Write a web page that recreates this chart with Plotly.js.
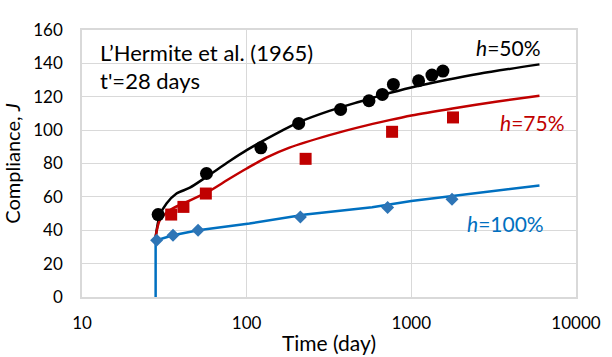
<!DOCTYPE html>
<html>
<head>
<meta charset="utf-8">
<script src="https://cdn.plot.ly/plotly-3.0.1.min.js"></script>
<style>
  body { margin: 0; background: #fff; }
  #chart { width: 612px; height: 357px; }
</style>
</head>
<body>
<div id="chart"></div>
<script>
// measured points (L'Hermite et al. 1965, t' = 28 days)
var t50 = [29, 57, 122, 207, 372, 553, 667, 778, 1107, 1334, 1555];
var j50 = [49.4, 74, 89.4, 104, 112.4, 117.6, 121.4, 127.4, 129.6, 133, 135.4];

var t75 = [34.8, 41.3, 56.5, 228, 764, 1791];
var j75 = [49.4, 54, 62, 82.8, 99, 107.6];

var t100 = [28.4, 35.7, 50.7, 212, 718, 1766];
var j100 = [34, 37, 40, 48, 53.6, 58.6];

// model curves
var tFit50 = [28, 29.7, 32.6, 37.5, 45.2, 57, 78.9, 100, 166, 205, 318, 484, 667, 1000, 1622, 2583, 6000];
var jFit50 = [36, 49, 56, 62, 65.5, 72, 81.5, 88, 100, 104.5, 111.5, 117, 121, 125.5, 130, 133.8, 139.4];

var tFit75 = [28, 29.7, 34.1, 41.1, 57, 78.9, 100, 131.6, 182, 318, 484, 736, 1000, 1780, 3260, 6000];
var jFit75 = [36, 46, 52, 56, 62.5, 71, 77, 83.5, 89.5, 97, 101.8, 106, 108.8, 113, 117, 120.6];

var tFit100 = [28, 28, 28.4, 35.7, 50.7, 104, 228, 578, 1000, 1766, 6000];
var jFit100 = [0, 34, 34, 37, 40, 44, 49.5, 53.8, 57.5, 60.5, 66.8];

var xTicks = [10, 100, 1000, 10000];
var xTickText = ['10', '100', '1000', '10000'];
var yTicks = [0, 20, 40, 60, 80, 100, 120, 140, 160];

var black = '#000000', red = '#c00000', blue = '#0070c0';

var data = [
  {x: tFit50, y: jFit50, mode: 'lines', line: {color: black, width: 2.5, shape: 'spline', smoothing: 0.8}},
  {x: tFit75, y: jFit75, mode: 'lines', line: {color: red, width: 2.5, shape: 'spline', smoothing: 0.8}},
  {x: tFit100, y: jFit100, mode: 'lines', line: {color: blue, width: 2.5}},
  {x: t50, y: j50, mode: 'markers', marker: {color: black, size: 13, symbol: 'circle'}},
  {x: t75, y: j75, mode: 'markers', marker: {color: red, size: 12, symbol: 'square'}},
  {x: t100, y: j100, mode: 'markers', marker: {color: '#2e75b6', size: 10, symbol: 'diamond'}}
];

var font = 'Lato, "Open Sans", sans-serif';

var layout = {
  width: 612,
  height: 357,
  margin: {l: 82, r: 36, t: 30, b: 60},
  showlegend: false,
  paper_bgcolor: '#fff',
  plot_bgcolor: '#fff',
  font: {family: font, size: 17, color: '#000'},
  xaxis: {
    type: 'log',
    range: [1, 4],
    tickvals: xTicks,
    ticktext: xTickText,
    ticks: '',
    ticklabelstandoff: 10,
    showgrid: true,
    gridcolor: '#d9d9d9',
    gridwidth: 1,
    showline: true,
    linecolor: '#d9d9d9',
    linewidth: 1.5,
    mirror: true,
    zeroline: false,
    title: {text: 'Time (day)', font: {size: 21}, standoff: 4}
  },
  yaxis: {
    range: [0, 160],
    tickvals: yTicks,
    ticks: '',
    ticklabelstandoff: 14,
    showgrid: true,
    gridcolor: '#d9d9d9',
    gridwidth: 1,
    showline: true,
    linecolor: '#d9d9d9',
    linewidth: 1.5,
    mirror: true,
    zeroline: false,
    title: {text: 'Compliance, <i>J</i>', font: {size: 20}, standoff: 8}
  },
  annotations: [
    {x: 1.095, y: 146.8, xref: 'x', yref: 'y', text: 'L’Hermite et al. (1965)', showarrow: false,
     xanchor: 'left', yanchor: 'middle', font: {size: 22}},
    {x: 1.095, y: 130, xref: 'x', yref: 'y', text: "t'=28 days", showarrow: false,
     xanchor: 'left', yanchor: 'middle', font: {size: 22}},
    {x: 3.8, y: 149.8, xref: 'x', yref: 'y', text: '<i>h</i>=50%', showarrow: false,
     xanchor: 'right', yanchor: 'middle', font: {size: 21, color: black}},
    {x: 3.945, y: 104.8, xref: 'x', yref: 'y', text: '<i>h</i>=75%', showarrow: false,
     xanchor: 'right', yanchor: 'middle', font: {size: 21, color: red}},
    {x: 3.816, y: 44.2, xref: 'x', yref: 'y', text: '<i>h</i>=100%', showarrow: false,
     xanchor: 'right', yanchor: 'middle', font: {size: 21, color: blue}}
  ]
};

Plotly.newPlot('chart', data, layout, {displayModeBar: false});
</script>
</body>
</html>
